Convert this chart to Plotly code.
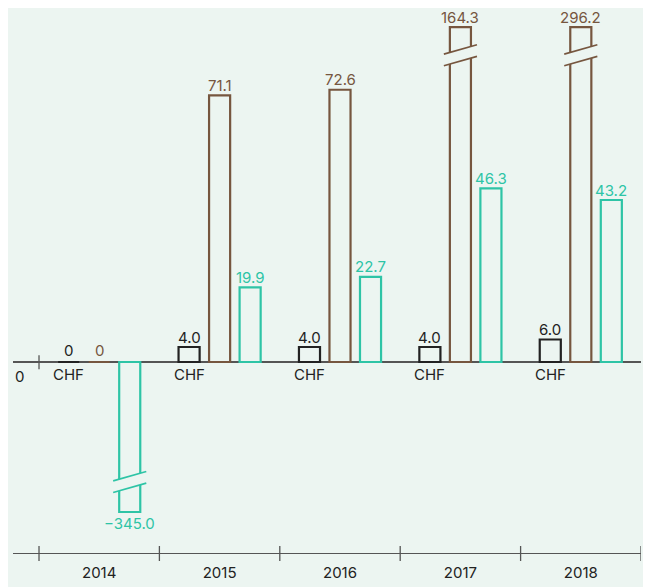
import plotly.graph_objects as go

# ---- data ----
years = ["2014", "2015", "2016", "2017", "2018"]
chf_values = [0, 4.0, 4.0, 4.0, 6.0]
brown_values = [0, 71.1, 72.6, 164.3, 296.2]
teal_values = [-345.0, 19.9, 22.7, 46.3, 43.2]
chf_label = "CHF"
zero_label = "0"

# ---- style ----
BG = "#ecf5f1"
C_BLACK = "#222222"
C_BROWN = "#76563f"
C_TEAL = "#2ec4a6"
C_AXIS = "#555555"
FONT = "Inter"
FS = 15
FW = 400

W = 0.175          # bar width (category units)
SLOT = 0.2535      # distance between bar centres within a group
CAP_TOP = 89.3     # broken-axis display limits
CAP_BOTTOM = -40
Y_RANGE = [-50.93, 93.87]
X_RANGE = [-0.716, 4.5]
PLOT_H = 543

xs = list(range(len(years)))


def shown(v):
    return max(min(v, CAP_TOP), CAP_BOTTOM)


def fmt(v):
    if v == 0:
        return "0"
    s = f"{abs(v):.1f}"
    return ("\u2212" if v < 0 else "") + s


def label_shift(v):
    if v < 0:
        return -1
    if v == 0:
        return 1
    return -0.5


series = [
    (chf_values, C_BLACK, -SLOT),
    (brown_values, C_BROWN, 0.0),
    (teal_values, C_TEAL, SLOT),
]

fig = go.Figure()
shapes = []
annotations = []

for vals, col, off in series:
    fig.add_trace(go.Bar(
        x=xs,
        y=[shown(v) for v in vals],
        width=W,
        offset=off - W / 2,
        marker=dict(color="rgba(0,0,0,0)", line=dict(color=col, width=2.2)),
        cliponaxis=False,
        hoverinfo="skip",
        showlegend=False,
    ))
    for i, v in enumerate(vals):
        # value label
        annotations.append(dict(
            x=i + off, y=shown(v), xref="x", yref="y", text=fmt(v),
            showarrow=False, yanchor="top" if v < 0 else "bottom",
            yshift=label_shift(v), borderpad=0,
            font=dict(color=col, size=FS, family=FONT, weight=FW)))
        # break marks for values beyond display limits
        if v > CAP_TOP or v < CAP_BOTTOM:
            yc = CAP_TOP - 7.5 if v > CAP_TOP else CAP_BOTTOM + 8
            g, r = 1.55, 2.5
            xl = i + off - W / 2 - 0.05
            xr = i + off + W / 2 + 0.05
            shapes.append(dict(
                type="path", xref="x", yref="y", layer="above",
                path=(f"M {xl},{yc + g - r / 2} L {xr},{yc + g + r / 2} "
                      f"L {xr},{yc - g + r / 2} L {xl},{yc - g - r / 2} Z"),
                fillcolor=BG, line=dict(width=0),
            ))
            for sgn in (1, -1):
                shapes.append(dict(
                    type="line", xref="x", yref="y", layer="above",
                    x0=xl, y0=yc + sgn * g - r / 2, x1=xr, y1=yc + sgn * g + r / 2,
                    line=dict(color=col, width=1.6),
                ))

# bottom axis boundary ticks (crossing the line)
for b in range(len(years) + 1):
    shapes.append(dict(type="line", xref="x", yref="paper",
                       x0=b - 0.5, x1=b - 0.5, y0=-8 / PLOT_H, y1=7 / PLOT_H,
                       line=dict(color=C_AXIS, width=1.3)))
# tick on zero line
shapes.append(dict(type="line", xref="x", yref="y",
                   x0=-0.5, x1=-0.5, y0=-1.95, y1=1.8,
                   line=dict(color=C_AXIS, width=1.3)))

for i in xs:
    annotations.append(dict(x=i - SLOT, y=0, xref="x", yref="y", text=chf_label,
                            showarrow=False, yanchor="top", yshift=-1,
                            font=dict(color=C_BLACK, size=FS, family=FONT, weight=FW)))
annotations.append(dict(x=0, y=0, xref="paper", yref="y", text=zero_label,
                        showarrow=False, xanchor="left", yanchor="top", yshift=-3,
                        font=dict(color=C_BLACK, size=FS, family=FONT, weight=FW)))

# page body has an 8px default margin: size the figure to fit the window
fig.update_layout(
    width=643, height=579,
    margin=dict(l=5, r=10, t=2, b=34),
    paper_bgcolor=BG, plot_bgcolor=BG,
    barmode="overlay",
    shapes=shapes,
    annotations=annotations,
    xaxis=dict(range=X_RANGE, showgrid=False, zeroline=False,
               showline=True, linecolor=C_AXIS, linewidth=1.3,
               tickvals=xs, ticktext=years, ticks="outside", ticklen=6,
               tickcolor="rgba(0,0,0,0)",
               tickfont=dict(color=C_BLACK, size=FS, family=FONT, weight=FW)),
    yaxis=dict(range=Y_RANGE, showgrid=False, showticklabels=False, ticks="",
               zeroline=True, zerolinecolor=C_AXIS, zerolinewidth=1.6),
)

fig.write_html("out.html", config={"displayModeBar": False})
